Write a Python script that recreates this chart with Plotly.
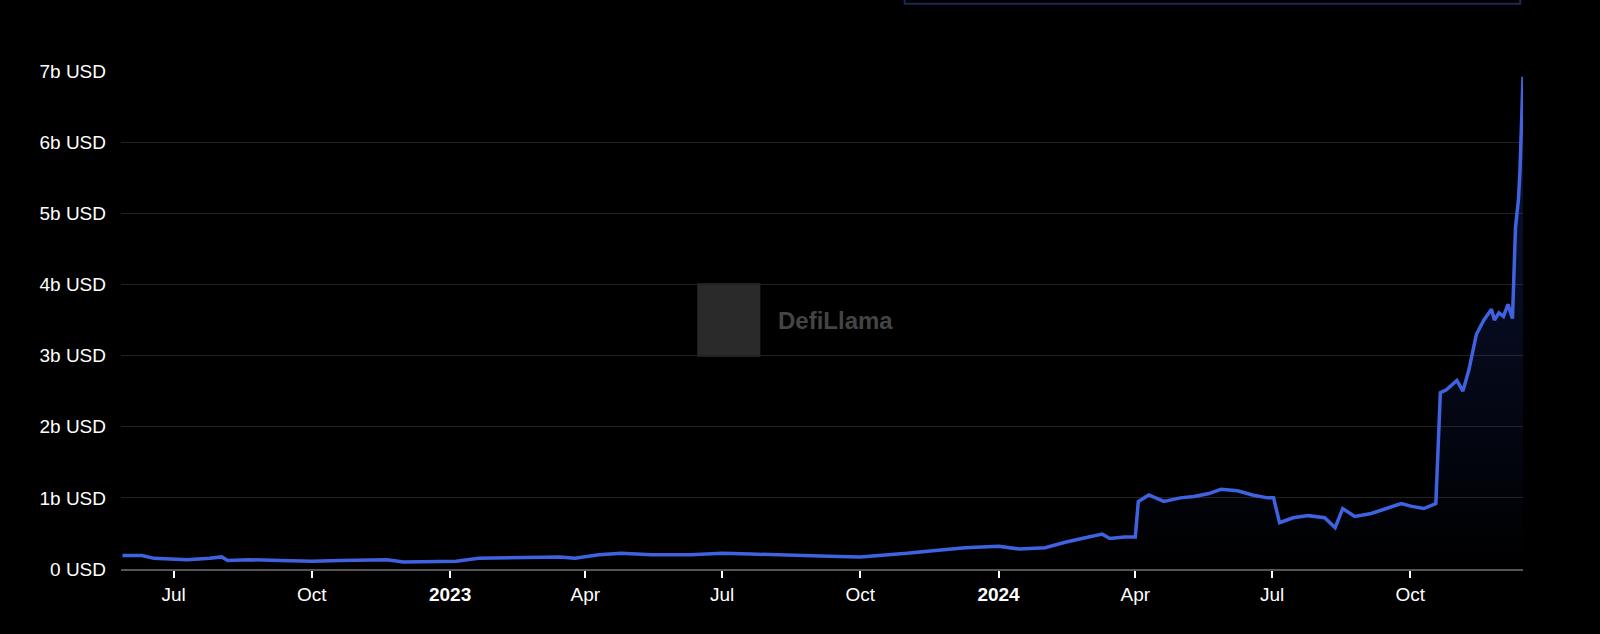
import plotly.graph_objects as go

dates = ["2022-05-28","2022-06-10","2022-06-18","2022-06-25","2022-07-10","2022-07-25","2022-08-02","2022-08-06","2022-08-20","2022-09-10","2022-10-01","2022-10-20","2022-11-10","2022-11-20","2022-12-01","2022-12-20","2023-01-05","2023-01-20","2023-02-10","2023-03-01","2023-03-15","2023-03-25","2023-04-10","2023-04-25","2023-05-15","2023-06-10","2023-07-01","2023-07-20","2023-08-15","2023-09-10","2023-10-01","2023-10-15","2023-11-01","2023-11-20","2023-12-10","2024-01-01","2024-01-15","2024-02-01","2024-02-15","2024-03-01","2024-03-10","2024-03-15","2024-03-25","2024-04-01","2024-04-03","2024-04-10","2024-04-20","2024-05-01","2024-05-10","2024-05-20","2024-05-28","2024-06-08","2024-06-18","2024-06-28","2024-07-02","2024-07-06","2024-07-15","2024-07-25","2024-08-05","2024-08-12","2024-08-17","2024-08-25","2024-09-05","2024-09-15","2024-09-25","2024-10-02","2024-10-10","2024-10-18","2024-10-21","2024-10-25","2024-11-01","2024-11-05","2024-11-09","2024-11-14","2024-11-19","2024-11-24","2024-11-26","2024-11-29","2024-12-02","2024-12-05","2024-12-08","2024-12-10","2024-12-12","2024-12-13","2024-12-15"]
tvl = [0.19,0.19,0.15,0.14,0.13,0.15,0.17,0.12,0.13,0.12,0.11,0.12,0.12,0.13,0.10,0.10,0.11,0.15,0.16,0.16,0.17,0.15,0.20,0.22,0.20,0.20,0.22,0.21,0.19,0.18,0.17,0.19,0.22,0.26,0.30,0.32,0.28,0.30,0.38,0.45,0.49,0.43,0.45,0.45,0.95,1.04,0.95,1.00,1.02,1.06,1.12,1.10,1.04,1.00,1.00,0.65,0.72,0.75,0.72,0.58,0.85,0.74,0.78,0.85,0.92,0.88,0.85,0.92,2.48,2.52,2.65,2.50,2.80,3.30,3.50,3.65,3.50,3.60,3.55,3.72,3.52,4.80,5.20,5.60,6.92]

tickvals = ["2022-07-01","2022-10-01","2023-01-01","2023-04-01","2023-07-01","2023-10-01","2024-01-01","2024-04-01","2024-07-01","2024-10-01"]
ticktext = ["Jul","Oct","<b>2023</b>","Apr","Jul","Oct","<b>2024</b>","Apr","Jul","Oct"]
yvals = [0,1e9,2e9,3e9,4e9,5e9,6e9,7e9]
ytext = ["0 USD","1b USD","2b USD","3b USD","4b USD","5b USD","6b USD","7b USD"]

fig = go.Figure(go.Scatter(
    x=dates, y=[v*1e9 for v in tvl], mode="lines",
    line=dict(color="#3f63e0", width=3.5),
    fill="tozeroy",
    fillgradient=dict(type="vertical", colorscale=[[0,"rgba(40,70,200,0.0)"],[1,"rgba(40,70,200,0.3)"]]),
))
fig.update_layout(
    width=1600, height=634, paper_bgcolor="black", plot_bgcolor="black",
    margin=dict(l=121, r=77, t=71, b=65), showlegend=False,
    font=dict(family="Liberation Sans, Arial", color="white", size=19),
    xaxis=dict(range=["2022-05-27","2024-12-15"], tickvals=tickvals, ticktext=ticktext,
               showgrid=False, ticks="outside", ticklen=7, tickcolor="white", tickwidth=2,
               showline=True, linecolor="#555", linewidth=2, tickfont=dict(size=19)),
    yaxis=dict(range=[0,7e9], tickvals=yvals, ticktext=ytext, gridcolor="#222",
               zeroline=False, tickfont=dict(size=19), ticklabelstandoff=14),
    shapes=[
        dict(type="rect", xref="paper", yref="paper", x0=0.411, x1=0.456, y0=0.426, y1=0.574,
             fillcolor="#2a2a2a", line=dict(width=0), layer="below"),
        dict(type="rect", xref="paper", yref="paper", x0=0.559, x1=0.998, y0=1.135, y1=1.3,
             fillcolor="black", line=dict(color="#1a2a55", width=2)),
    ],
    annotations=[dict(text="<b>DefiLlama</b>", x=0.467, y=0.5, xref="paper", yref="paper",
                      xanchor="left", showarrow=False, font=dict(size=24, color="#444"))],
)
fig.write_html("out.html", config={"displayModeBar": False},
               post_script="document.body.style.margin='0';document.body.style.background='black';")
